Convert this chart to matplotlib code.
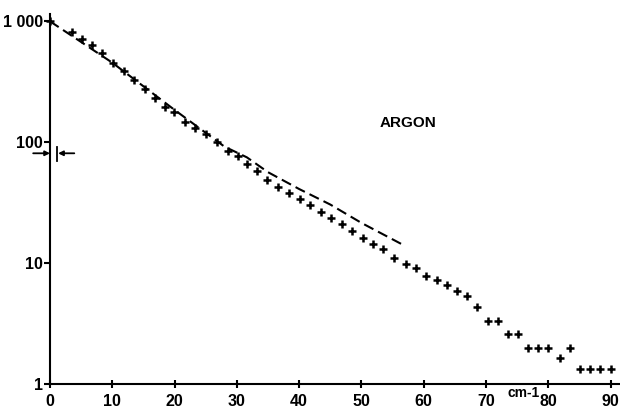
import matplotlib.pyplot as plt
import numpy as np

# measured counts vs wavenumber (cm-1), argon
wavenumber = [0, 3.5, 5.1, 6.7, 8.3, 10.1, 11.8, 13.5, 15.2, 16.9, 18.5,
              19.9, 21.6, 23.3, 25.0, 26.8, 28.5, 30.1, 31.7, 33.3, 34.9,
              36.6, 38.4, 40.1, 41.8, 43.5, 45.1, 46.8, 48.5, 50.2, 51.9,
              53.5, 55.2, 57.1, 58.7, 60.4, 62.1, 63.8, 65.4, 67.0, 68.6,
              70.3, 71.9, 73.6, 75.2, 76.8, 78.4, 80.0, 81.8, 83.4, 85.1,
              86.7, 88.3, 90.0]
counts = [1000, 815, 720, 634, 547, 452, 386, 325, 278, 234, 196,
          178, 147, 130, 116, 100, 85, 77, 66, 58, 49,
          43, 38, 34, 30, 26.5, 23.4, 20.9, 18.4, 16.2, 14.3,
          13.0, 11.1, 9.8, 9.1, 7.8, 7.2, 6.6, 5.9, 5.3, 4.3,
          3.3, 3.3, 2.6, 2.6, 2.0, 2.0, 2.0, 1.65, 2.0, 1.32,
          1.32, 1.32, 1.32]

# calculated curve (dashed)
calc_x = [0, 10, 20, 28, 31.6, 35, 40, 45, 50, 56.4]
calc_y = [1000, 455, 185, 92, 75, 56.5, 41, 30.5, 21.5, 14.4]

yticks = [1, 10, 100, 1000]
ytick_labels = ["1", "10", "100", "1 000"]
xticks = np.arange(0, 100, 10)

# width marker on the vertical axis
width_level = 81

fig = plt.figure(figsize=(6.2, 4.11), dpi=100)
ax = fig.add_axes([50 / 620, 27 / 411, 570 / 620, 370 / 411])

ax.set_yscale("log")
ax.set_xlim(0, 91.5)
ax.set_ylim(1, 1150)

ax.plot(calc_x, calc_y, color="black", lw=1.5, ls=(0, (5, 2.5)))
ax.plot(wavenumber, counts, ls="none", marker="+", ms=6, mew=1.8,
        color="black", clip_on=False)

for side in ["top", "right"]:
    ax.spines[side].set_visible(False)
for side in ["left", "bottom"]:
    ax.spines[side].set_linewidth(1.5)

font = dict(family="Liberation Sans", weight="bold", size=11.5)
ax.set_yticks(yticks)
ax.set_yticklabels(ytick_labels, **font)
ax.yaxis.set_minor_locator(plt.NullLocator())
ax.set_xticks(xticks)
ax.set_xticklabels([str(v) for v in xticks], **font)
ax.tick_params(axis="y", direction="out", length=4, width=1.5, pad=1)
ax.tick_params(axis="x", direction="inout", length=6, width=1.5, pad=4)

ax.text(57.5, 144, "ARGON", ha="center", va="center",
        family="Liberation Sans", weight="bold", size=11)
ax.text(76, 0.96, "cm-1", ha="center", va="top",
        family="Liberation Sans", weight="bold", size=10)

# arrows pointing at the width bar
ax.annotate("", xy=(0, width_level), xytext=(-2.7, width_level),
            arrowprops=dict(arrowstyle="-|>", color="black", lw=1.3,
                            mutation_scale=7, shrinkA=0, shrinkB=0),
            annotation_clip=False)
ax.annotate("", xy=(1.3, width_level), xytext=(3.9, width_level),
            arrowprops=dict(arrowstyle="-|>", color="black", lw=1.3,
                            mutation_scale=7, shrinkA=0, shrinkB=0),
            annotation_clip=False)
ax.plot([1.07, 1.07], [width_level * 0.86, width_level * 1.13],
        color="black", lw=1.3, clip_on=False)

fig.savefig("out.png", dpi=100)
